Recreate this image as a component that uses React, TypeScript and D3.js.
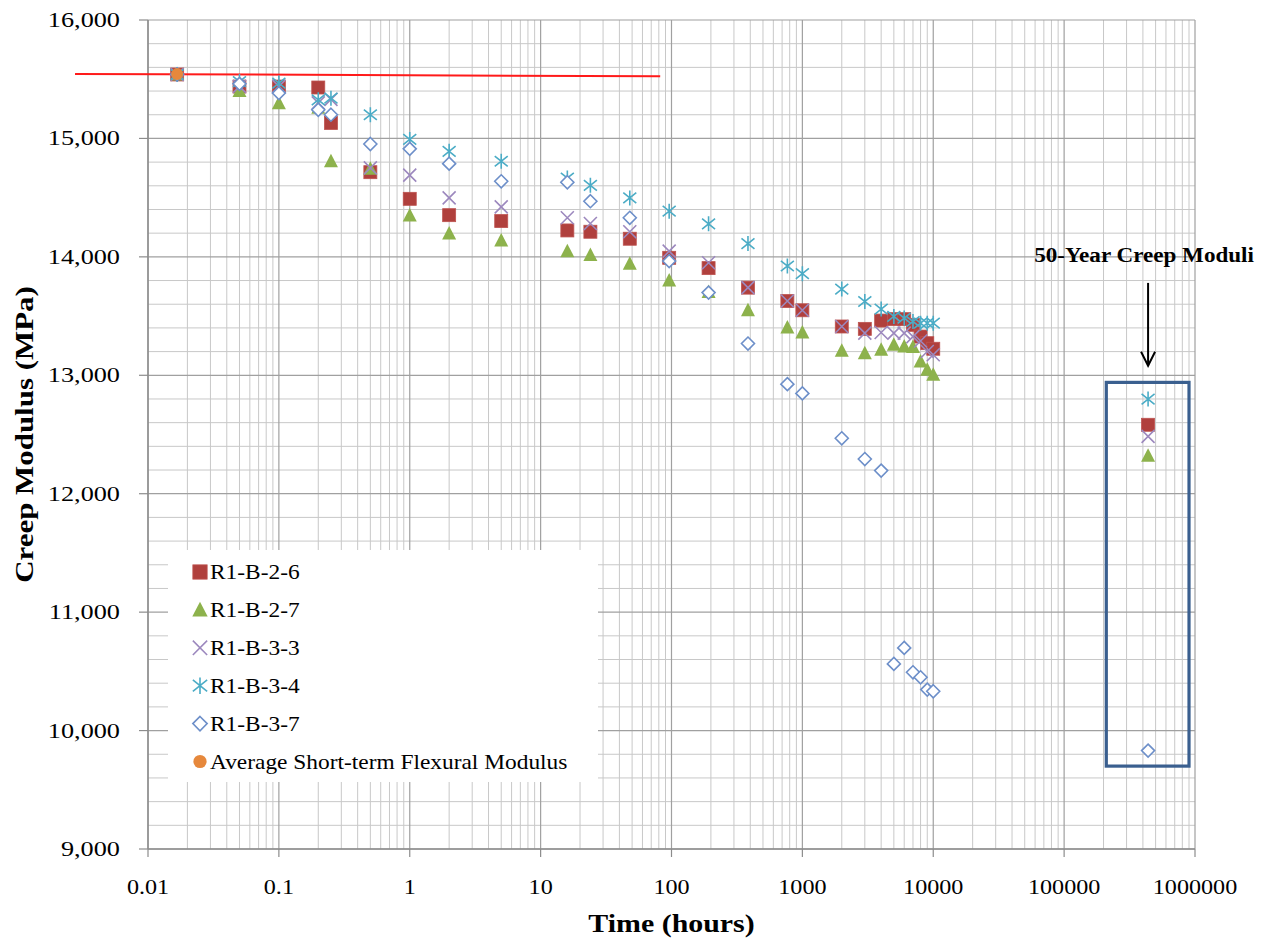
import React from "react";
import * as d3 from "d3";

// ---------- data ----------
const times = [0.0167, 0.05, 0.1, 0.2, 0.25, 0.5, 1, 2, 5, 16, 24, 48, 96, 192, 384, 768, 1000, 2000, 3000, 4000, 5000, 6000, 7000, 8000, 9000, 10000, 438000];

const r1b26 = [15540, 15438, 15438, 15430, 15130, 14715, 14490, 14352, 14302, 14223, 14212, 14153, 13992, 13905, 13740, 13627, 13549, 13412, 13392, 13462, 13474, 13474, 13426, 13327, 13271, 13224, 12582];
const r1b27 = [15540, 15400, 15298, 15260, 14807, 14745, 14349, 14197, 14138, 14048, 14015, 13942, 13801, 13703, 13549, 13403, 13361, 13207, 13187, 13215, 13257, 13243, 13238, 13116, 13046, 13004, 12321];
const r1b33 = [15540, 15440, 15440, 15300, 15330, 14751, 14690, 14498, 14422, 14330, 14282, 14212, 14048, 13950, 13740, 13627, 13549, 13412, 13356, 13361, 13356, 13356, 13327, 13290, 13201, 13173, 12484];
const r1b34 = [15540, 15480, 15467, 15326, 15340, 15200, 14992, 14891, 14807, 14666, 14604, 14498, 14386, 14279, 14112, 13923, 13858, 13728, 13623, 13559, 13497, 13483, 13454, 13440, 13440, 13440, 12799];
const r1b37 = [15540, 15461, 15383, 15242, 15200, 14953, 14912, 14787, 14638, 14630, 14470, 14330, 13964, 13698, 13268, 12925, 12847, 12468, 12293, 12195, 10563, 10698, 10492, 10450, 10346, 10332, 9831];

const avgTimes = [0.0167];
const avgValues = [15543];

const seriesNames = ["R1-B-2-6", "R1-B-2-7", "R1-B-3-3", "R1-B-3-4", "R1-B-3-7", "Average Short-term Flexural Modulus"];

// hand-drawn reference line (time, modulus)
const refLineTimes = [0.00277, 82];
const refLineValues = [15545, 15525];

// 50-year annotation
const boxTimes = [210000, 900000];
const boxValues = [12940, 9700];
const arrowTime = 438000;
const arrowValues = [13780, 13080];
const noteValue = 13960;
const noteText = "50-Year Creep Moduli";

const xTicks = [0.01, 0.1, 1, 10, 100, 1000, 10000, 100000, 1000000];
const xTickLabels = ["0.01", "0.1", "1", "10", "100", "1000", "10000", "100000", "1000000"];
const yTicks = [9000, 10000, 11000, 12000, 13000, 14000, 15000, 16000];
const yTickLabels = ["9,000", "10,000", "11,000", "12,000", "13,000", "14,000", "15,000", "16,000"];

// ---------- styles ----------
const W = 1267, H = 943;
const SERIF = "'Liberation Serif', 'Times New Roman', serif";
const C = {
  square: "#B0403D",
  squareStroke: "#BE5350",
  tri: "#8DB24C",
  x: "#9C88BE",
  ast: "#4BACC6",
  diamond: "#6D8FC9",
  avg: "#E6883C",
  gridMinor: "#C8C8C8",
  gridMajor: "#A0A0A0",
  axis: "#8C8C8C",
  red: "#FF1A1A",
  box: "#3A5F8F",
};

type Kind = "square" | "tri" | "x" | "ast" | "diamond" | "circle";

function Marker({ kind, cx, cy, s = 1 }: { kind: Kind; cx: number; cy: number; s?: number }) {
  const r = 6.5 * s;
  switch (kind) {
    case "square":
      return <rect x={cx - r} y={cy - r} width={2 * r} height={2 * r} fill={C.square} stroke={C.squareStroke} strokeWidth={0.8} />;
    case "tri":
      return <path d={`M${cx},${cy - 7.5 * s}L${cx + 7 * s},${cy + 6 * s}L${cx - 7 * s},${cy + 6 * s}Z`} fill={C.tri} />;
    case "x":
      return (
        <path d={`M${cx - r},${cy - r}L${cx + r},${cy + r}M${cx - r},${cy + r}L${cx + r},${cy - r}`} stroke={C.x} strokeWidth={1.6} fill="none" />
      );
    case "ast":
      return (
        <path
          d={`M${cx},${cy - 7.5 * s}L${cx},${cy + 7.5 * s}M${cx - r},${cy - r * 0.8}L${cx + r},${cy + r * 0.8}M${cx - r},${cy + r * 0.8}L${cx + r},${cy - r * 0.8}`}
          stroke={C.ast}
          strokeWidth={1.6}
          fill="none"
        />
      );
    case "diamond":
      return <path d={`M${cx},${cy - r}L${cx + r},${cy}L${cx},${cy + r}L${cx - r},${cy}Z`} fill="#fff" stroke={C.diamond} strokeWidth={1.6} />;
    case "circle":
      return <circle cx={cx} cy={cy} r={6 * s} fill={C.avg} />;
  }
}

function SText({ x, y, sx = 1, rotate = 0, anchor = "start", size, weight = "normal", children }: any) {
  return (
    <text
      transform={`translate(${x},${y}) rotate(${rotate}) scale(${sx},1)`}
      textAnchor={anchor}
      fontFamily={SERIF}
      fontSize={size}
      fontWeight={weight}
      fill="#000"
    >
      {children}
    </text>
  );
}

export default function App() {
  const x = d3.scaleLog().domain([0.01, 1e6]).range([148, 1195]);
  const y = d3.scaleLinear().domain([9000, 16000]).range([849, 20]);
  const [x0, x1] = x.range();
  const [yb, yt] = y.range();

  // grid
  const minorX: number[] = [];
  for (let e = -2; e < 6; e++) for (let k = 2; k <= 9; k++) minorX.push(k * Math.pow(10, e));
  const minorY = d3.range(9000, 16001, 200).filter((v) => v % 1000 !== 0);

  const series: { kind: Kind; vals: number[] }[] = [
    { kind: "square", vals: r1b26 },
    { kind: "tri", vals: r1b27 },
    { kind: "x", vals: r1b33 },
    { kind: "ast", vals: r1b34 },
    { kind: "diamond", vals: r1b37 },
  ];
  const legendKinds: Kind[] = ["square", "tri", "x", "ast", "diamond", "circle"];

  const line = d3
    .line<number>()
    .x((_, i) => x(refLineTimes[i]))
    .y((v) => y(v));

  const ax = x(arrowTime);
  const ay0 = y(arrowValues[0]);
  const ay1 = y(arrowValues[1]);

  return (
    <svg width={W} height={H} style={{ position: "absolute", left: 0, top: 0, background: "#fff" }}>
      <rect width={W} height={H} fill="#fff" />
      {/* grid */}
      <g>
        {minorX.map((v, i) => (
          <line key={"mx" + i} x1={x(v)} x2={x(v)} y1={yt} y2={yb} stroke={C.gridMinor} strokeWidth={1} />
        ))}
        {minorY.map((v, i) => (
          <line key={"my" + i} x1={x0} x2={x1} y1={y(v)} y2={y(v)} stroke={C.gridMinor} strokeWidth={1} />
        ))}
        {xTicks.map((v, i) => (
          <line key={"Mx" + i} x1={x(v)} x2={x(v)} y1={yt} y2={yb} stroke={C.gridMajor} strokeWidth={1.2} />
        ))}
        {yTicks.map((v, i) => (
          <line key={"My" + i} x1={x0} x2={x1} y1={y(v)} y2={y(v)} stroke={C.gridMajor} strokeWidth={1.2} />
        ))}
      </g>
      {/* axes */}
      <line x1={x0} x2={x0} y1={yt} y2={yb} stroke={C.axis} strokeWidth={1.5} />
      <line x1={x0} x2={x1} y1={yb} y2={yb} stroke={C.axis} strokeWidth={1.5} />
      {yTicks.map((v, i) => (
        <line key={"yt" + i} x1={x0 - 9} x2={x0} y1={y(v)} y2={y(v)} stroke={C.axis} strokeWidth={1.2} />
      ))}
      {xTicks.map((v, i) => (
        <line key={"xt" + i} x1={x(v)} x2={x(v)} y1={yb} y2={yb + 8} stroke={C.axis} strokeWidth={1.2} />
      ))}
      {/* tick labels */}
      {yTicks.map((v, i) => (
        <SText key={"yl" + i} x={120} y={y(v) + 7} anchor="end" size={21} sx={1.25}>
          {yTickLabels[i]}
        </SText>
      ))}
      {xTicks.map((v, i) => (
        <SText key={"xl" + i} x={x(v)} y={894} anchor="middle" size={21} sx={1.15}>
          {xTickLabels[i]}
        </SText>
      ))}
      {/* axis titles */}
      <SText x={(x0 + x1) / 2} y={932} anchor="middle" size={26} weight="bold" sx={1.15}>
        Time (hours)
      </SText>
      <SText x={33} y={(yt + yb) / 2} anchor="middle" size={26} weight="bold" sx={1.19} rotate={-90}>
        Creep Modulus (MPa)
      </SText>

      {/* red reference line */}
      <path d={line(refLineValues) || ""} stroke={C.red} strokeWidth={2} fill="none" />

      {/* data */}
      {series.map((s, si) => (
        <g key={"s" + si}>
          {s.vals.map((v, i) => (
            <Marker key={i} kind={s.kind} cx={x(times[i])} cy={y(v)} />
          ))}
        </g>
      ))}
      {avgValues.map((v, i) => (
        <Marker key={"avg" + i} kind="circle" cx={x(avgTimes[i])} cy={y(v)} />
      ))}

      {/* 50-year annotation */}
      <rect
        x={x(boxTimes[0])}
        y={y(boxValues[0])}
        width={x(boxTimes[1]) - x(boxTimes[0])}
        height={y(boxValues[1]) - y(boxValues[0])}
        fill="none"
        stroke={C.box}
        strokeWidth={3.2}
      />
      <line x1={ax} x2={ax} y1={ay0} y2={ay1} stroke="#000" strokeWidth={2} />
      <path d={`M${ax - 7},${ay1 - 14}L${ax},${ay1}L${ax + 7},${ay1 - 14}`} stroke="#000" strokeWidth={2} fill="none" />
      <SText x={ax - 4} y={y(noteValue)} anchor="middle" size={21} weight="bold" sx={1.1}>
        {noteText}
      </SText>

      {/* legend */}
      <rect x={168} y={550} width={430} height={232} fill="#fff" />
      {seriesNames.map((n, i) => {
        const cy = 572 + i * 37.9;
        return (
          <g key={"lg" + i}>
            <Marker kind={legendKinds[i]} cx={200} cy={cy} s={1.1} />
            <SText x={210} y={cy + 7} size={20} sx={1.17}>
              {n}
            </SText>
          </g>
        );
      })}
    </svg>
  );
}
